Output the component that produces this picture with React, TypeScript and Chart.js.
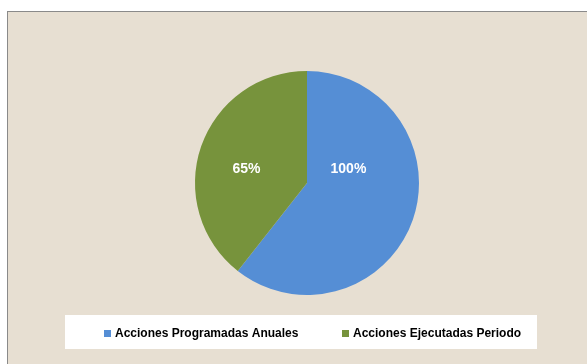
import React, { useEffect, useRef } from "react";
import { Chart, registerables } from "chart.js";

Chart.register(...registerables);

const categories: string[] = ["Acciones Programadas Anuales", "Acciones Ejecutadas Periodo"];
const values: number[] = [100, 65];
const valueLabels: string[] = ["100%", "65%"];
const colors: string[] = ["#558ED5", "#77933C"];

const W = 587;
const H = 364;

const labelPlugin = {
  id: "sliceLabels",
  afterDatasetsDraw(chart: any) {
    const ctx = chart.ctx;
    const meta = chart.getDatasetMeta(0);
    // label placement relative to pie (fractions of radius)
    const offsets = [
      [0.37, -0.12],
      [-0.54, -0.12],
    ];
    ctx.save();
    ctx.fillStyle = "#ffffff";
    ctx.font = "bold 14px 'Liberation Sans', Arial, sans-serif";
    ctx.textAlign = "center";
    ctx.textBaseline = "middle";
    meta.data.forEach((arc: any, i: number) => {
      const r = arc.outerRadius;
      const x = arc.x + offsets[i][0] * r;
      const y = arc.y + offsets[i][1] * r;
      ctx.fillText(valueLabels[i], x, y);
    });
    ctx.restore();
  },
};

const legendPlugin = {
  id: "boxLegend",
  afterDraw(chart: any) {
    const ctx = chart.ctx;
    ctx.save();
    ctx.fillStyle = "#ffffff";
    ctx.fillRect(65, 315, 472, 34);
    ctx.font = "bold 12px 'Liberation Sans', Arial, sans-serif";
    ctx.textBaseline = "middle";
    ctx.textAlign = "left";
    const starts = [104, 342];
    categories.forEach((c, i) => {
      ctx.fillStyle = colors[i];
      ctx.fillRect(starts[i], 330, 7, 7);
      ctx.fillStyle = "#000000";
      ctx.fillText(c, starts[i] + 11, 333.5);
    });
    ctx.restore();
  },
};

export default function App() {
  const ref = useRef<HTMLCanvasElement | null>(null);
  useEffect(() => {
    if (!ref.current) return;
    const chart = new Chart(ref.current, {
      type: "pie",
      data: {
        labels: categories,
        datasets: [
          {
            data: values,
            backgroundColor: colors,
            borderWidth: 0,
          },
        ],
      },
      options: {
        animation: false,
        responsive: false,
        maintainAspectRatio: false,
        layout: { padding: { left: 195, right: 168, top: 71, bottom: 69 } },
        plugins: {
          legend: { display: false },
          tooltip: { enabled: false },
        },
      },
      plugins: [labelPlugin, legendPlugin],
    });
    return () => chart.destroy();
  }, []);
  return (
    <div style={{ position: "fixed", left: 0, top: 0, width: W, height: H, overflow: "hidden", background: "#ffffff" }}>
      <div
        style={{
          position: "absolute",
          left: 7,
          top: 11,
          width: 590,
          height: 370,
          border: "1px solid #8a8a8a",
          background: "#e7dfd2",
        }}
      />
      <canvas ref={ref} width={W} height={H} style={{ position: "absolute", left: 0, top: 0, width: W, height: H }} />
    </div>
  );
}
